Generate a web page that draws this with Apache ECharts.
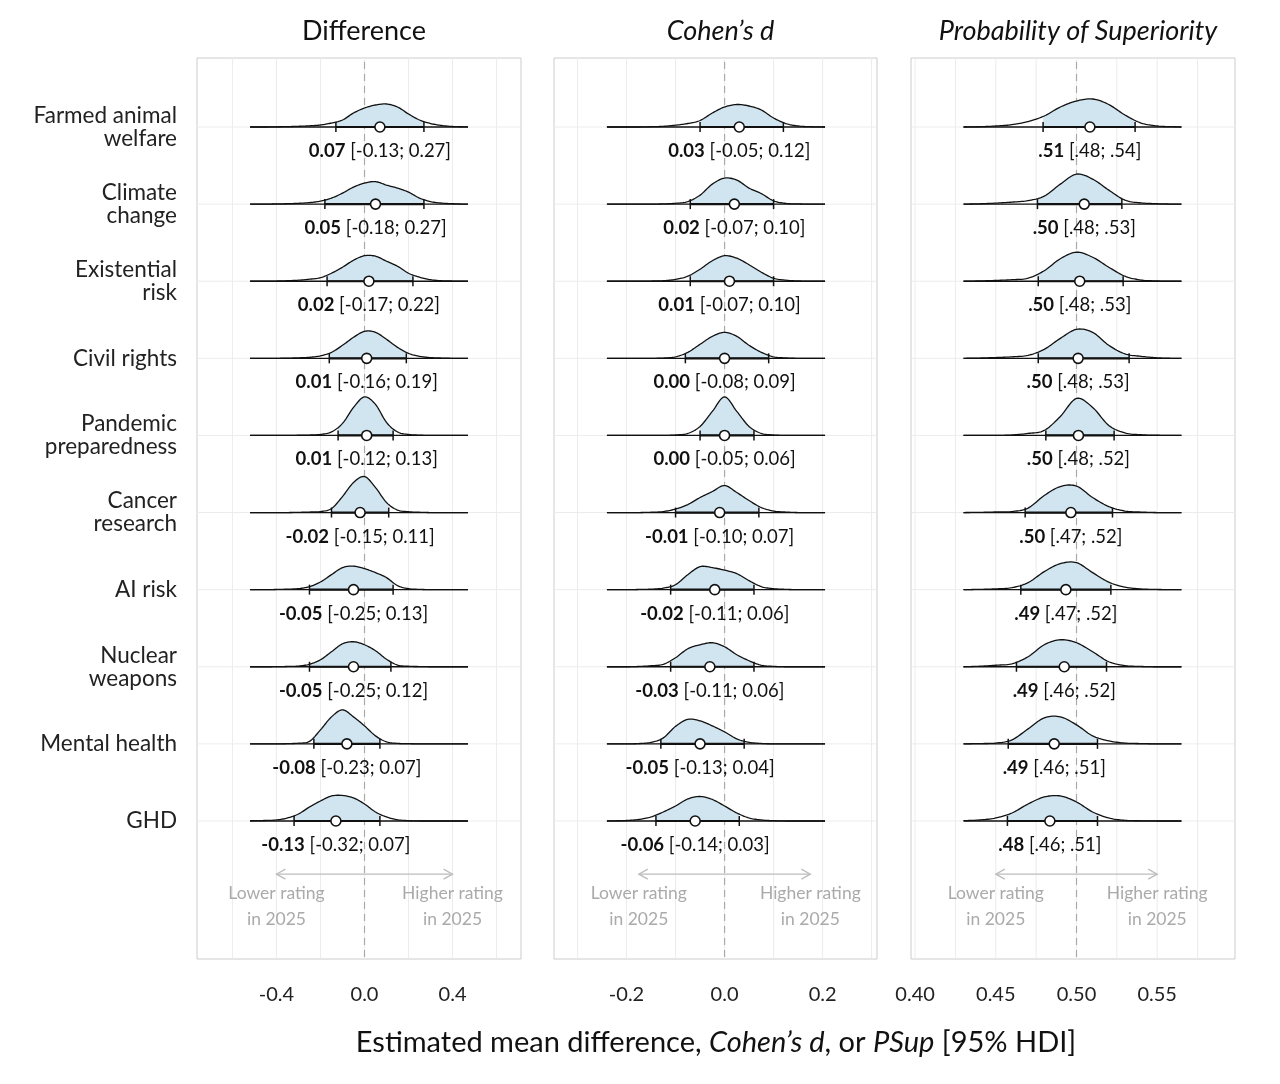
<!DOCTYPE html>
<html><head><meta charset="utf-8">
<script src="https://cdn.jsdelivr.net/npm/echarts@6/dist/echarts.min.js"></script>
<style>html,body{margin:0;padding:0;background:#fff}#c{width:1280px;height:1084px}</style>
</head><body><div id="c"></div>
<script>
// ---------------- DATA ----------------
const causes = ["Farmed animal\nwelfare","Climate\nchange","Existential\nrisk","Civil rights","Pandemic\npreparedness","Cancer\nresearch","AI risk","Nuclear\nweapons","Mental health","GHD"];

// Panel 1: Difference
const diffMean = [0.07,0.05,0.02,0.01,0.01,-0.02,-0.05,-0.05,-0.08,-0.13];
const diffLow  = [-0.13,-0.18,-0.17,-0.16,-0.12,-0.15,-0.25,-0.25,-0.23,-0.32];
const diffHigh = [0.27,0.27,0.22,0.19,0.13,0.11,0.13,0.12,0.07,0.07];
const diffDensX = [-0.52,-0.45,-0.4,-0.35,-0.3,-0.25,-0.2,-0.15,-0.1,-0.05,0,0.05,0.1,0.15,0.2,0.25,0.3,0.35,0.4,0.45,0.47];
const diffDens = [
 [0,0,0.2,0.4,0.7,1.2,2,4,7,14,19,22,23,20,13,7,3.5,1.5,0.5,0.2,0],
 [0,0,0.2,0.4,0.8,1.5,3,6,11,17,21,22.5,19,16,12,6,2.5,1,0.4,0,0],
 [0,0,0.2,0.5,1,2,3.5,8,14,21,25.5,25,20,15,8,4,1.5,0.5,0.2,0,0],
 [0,0,0,0.2,0.5,1,2.5,6,13,21,27,26,19,11,5,2,0.7,0.3,0,0,0],
 [0,0,0,0,0.2,0.4,1,3.5,12,28,38.5,31,13,3.5,1,0.3,0,0,0,0,0],
 [0,0,0,0,0.2,0.5,1,4,16,30,36,25,10,2.5,0.8,0.3,0,0,0,0,0],
 [0,0,0.2,0.5,1,3,7.7,15,22,23.5,21,17,12,4,1,0.3,0,0,0,0,0],
 [0,0,0.1,0.3,0.7,2.5,7,15,23,25,22,16,7.5,1.7,0.5,0.2,0,0,0,0,0],
 [0,0,0,0.2,0.7,2.5,14,27,34,27,18,8,2,0.5,0.2,0,0,0,0,0,0],
 [0.2,0.5,1,3,7,14,20,25,25.5,23,17,9,4,1.2,0.3,0,0,0,0,0,0]
];
const diffTicks = [-0.4,0,0.4];
const diffGridLines = [-0.6,-0.4,-0.2,0,0.2,0.4,0.6];
const diffArrow = [-0.4,0.4];

// Panel 2: Cohen's d
const dMean = [0.03,0.02,0.01,0.00,0.00,-0.01,-0.02,-0.03,-0.05,-0.06];
const dLow  = [-0.05,-0.07,-0.07,-0.08,-0.05,-0.10,-0.11,-0.11,-0.13,-0.14];
const dHigh = [0.12,0.10,0.10,0.09,0.06,0.07,0.06,0.06,0.04,0.03];
const dDensX = [-0.24,-0.2,-0.175,-0.15,-0.125,-0.1,-0.075,-0.05,-0.025,0,0.025,0.05,0.075,0.1,0.125,0.15,0.175,0.205];
const dDens = [
 [0,0,0,0.3,0.7,1.8,3.5,6.5,14,20,22.5,21,17,9,3.5,1,0.3,0],
 [0,0,0,0,0.2,0.8,2.5,9,20,26,24,16,10.5,3.3,0.7,0.2,0,0],
 [0,0,0,0.2,0.5,1.8,5,12,20.5,25.5,23,16.5,9,3,1,0.3,0,0],
 [0,0,0,0,0.3,1.5,6,14,22,26,22,13,6,1.5,0.4,0,0,0],
 [0,0,0,0,0,0.5,2,9,24,38.5,24,9,2,0.5,0,0,0,0],
 [0,0,0,0.3,1,3.5,8,15,21,27,20,12,5,1.5,0.5,0,0,0],
 [0,0,0.2,0.5,1.5,5,15,23,22,19.5,16,9,3,1,0.3,0,0,0],
 [0,0,0.3,1,2.5,9,18,22,24,20,12,6,1.5,0.4,0,0,0,0],
 [0,0,0.3,1.5,6,17.5,24.5,23,18,12,5,1.5,0.4,0,0,0,0,0],
 [0,0.5,1.5,4,9,15,22,24.5,21.5,15,8,3,1,0.3,0,0,0,0]
];
const dTicks = [-0.2,0,0.2];
const dGridLines = [-0.3,-0.2,-0.1,0,0.1,0.2,0.3];
const dArrow = [-0.175,0.175];

// Panel 3: Probability of Superiority
const psMean = [0.5083,0.5048,0.502,0.501,0.5012,0.4965,0.4934,0.4924,0.4862,0.4835];
const psLow  = [0.4793,0.4758,0.4763,0.4763,0.481,0.4682,0.4655,0.4628,0.4577,0.4572];
const psHigh = [0.5363,0.5281,0.5289,0.5326,0.5233,0.5223,0.5213,0.5186,0.513,0.513];
const psMeanText = [".51",".50",".50",".50",".50",".50",".49",".49",".49",".48"];
const psLowText  = [".48",".48",".48",".48",".48",".47",".47",".46",".46",".46"];
const psHighText = [".54",".53",".53",".53",".52",".52",".52",".52",".51",".51"];
const psDensX = [0.43,0.44,0.45,0.46,0.47,0.48,0.49,0.5,0.51,0.52,0.53,0.54,0.55,0.56,0.565];
const psDens = [
 [0,0.3,1,2.3,5.5,11,20,26,28,22.5,12,4,1,0.3,0],
 [0,0.3,1,2,3.5,8,20,30,25,14,4,1.2,0.4,0,0],
 [0,0.3,0.8,1.5,3,10.5,22.5,29,24,14,5,1.2,0.3,0,0],
 [0,0.3,0.8,1.5,3,9,20,29,26,13,4.5,2,0.5,0,0],
 [0,0,0,0.5,2,5,19,37,28,10,2.5,0.7,0.2,0,0],
 [0,0.2,0.6,1,4.5,17,26,26.5,15,6,1.5,0.5,0,0,0],
 [0,0.3,0.8,2,7,18,26,27,17,7.5,2.5,0.7,0.2,0,0],
 [0,0.5,1.5,3,10,22,27,24,15,5,1.2,0.3,0,0,0],
 [0,0.3,0.8,4,15,26,27,19,8,3,0.8,0.3,0,0,0],
 [0.3,1,3,8,17,24,25,19,9,3,0.6,0.2,0,0,0]
];
const psTicks = [0.40,0.45,0.50,0.55];
const psGridLines = [0.4,0.425,0.45,0.475,0.5,0.525,0.55,0.575];
const psArrow = [0.45,0.55];

const panelTitles = ["Difference","Cohen’s d","Probability of Superiority"];
const arrowText = ["Lower rating\nin 2025","Higher rating\nin 2025"];
const axisTitle = "Estimated mean difference, {i|Cohen’s d}, or {i|PSup} [95% HDI]";

// ---------------- LAYOUT / STYLE ----------------
const FONT = "Lato";
const FILL = "#d1e5f0";
const INK = "#111";
const Y_MIN = -0.895, Y_MAX = 10.79;
const DSCALE = 1/77.1;   // density unit -> row units
const gridsPx = [[197,324],[554,323],[911,324]];
const xRanges = [[-0.761,0.711],[-0.348,0.311],[0.39746,0.5982]];
const VAL_FS = 18.5;

const fmt2 = v => (Math.abs(v) < 1e-9 ? 0 : v).toFixed(2);
const panels = [
  {x:diffDensX, dens:diffDens, mean:diffMean, lo:diffLow, hi:diffHigh,
   mt:diffMean.map(fmt2), lt:diffLow.map(fmt2), ht:diffHigh.map(fmt2),
   ticks:diffTicks, gl:diffGridLines, ref:0, arrow:diffArrow, fmt:v=>v.toFixed(1)},
  {x:dDensX, dens:dDens, mean:dMean, lo:dLow, hi:dHigh,
   mt:dMean.map(fmt2), lt:dLow.map(fmt2), ht:dHigh.map(fmt2),
   ticks:dTicks, gl:dGridLines, ref:0, arrow:dArrow, fmt:v=>v.toFixed(1)},
  {x:psDensX, dens:psDens, mean:psMean, lo:psLow, hi:psHigh,
   mt:psMeanText, lt:psLowText, ht:psHighText,
   ticks:psTicks, gl:psGridLines, ref:0.5, arrow:psArrow, fmt:v=>v.toFixed(2)}
];

function spline(P, y0){
  const out=[]; const n=P.length;
  for(let i=0;i<n-1;i++){
    const p0=P[Math.max(i-1,0)], p1=P[i], p2=P[i+1], p3=P[Math.min(i+2,n-1)];
    for(let s=0;s<10;s++){
      const t=s/10, t2=t*t, t3=t2*t;
      const f=(a,b,c,d)=>0.5*(2*b+(-a+c)*t+(2*a-5*b+4*c-d)*t2+(-a+3*b-3*c+d)*t3);
      out.push([f(p0[0],p1[0],p2[0],p3[0]), Math.min(y0, f(p0[1],p1[1],p2[1],p3[1]))]);
    }
  }
  out.push([P[n-1][0], Math.min(y0,P[n-1][1])]);
  return out;
}
function interpY(pts,x){
  for(let k=0;k<pts.length-1;k++){
    const a=pts[k], b=pts[k+1];
    if(x>=a[0] && x<=b[0]){ const t=(b[0]===a[0])?0:(x-a[0])/(b[0]-a[0]); return a[1]+t*(b[1]-a[1]); }
  }
  return pts[pts.length-1][1];
}

function densRender(p){
  return function(params, api){
    const r = api.value(1);
    const d = p.dens[r];
    const y0 = api.coord([p.x[0], r])[1];
    const raw = p.x.map((x,k)=>api.coord([x, r - d[k]*DSCALE]));
    const pts = spline(raw, y0);
    const xlo = api.coord([p.lo[r], r])[0], xhi = api.coord([p.hi[r], r])[0];
    const xm = api.coord([p.mean[r], r])[0];
    const fillPts=[[xlo,y0],[xlo,interpY(pts,xlo)]];
    pts.forEach(q=>{ if(q[0]>xlo && q[0]<xhi) fillPts.push(q); });
    fillPts.push([xhi,interpY(pts,xhi)],[xhi,y0]);
    return {type:'group', children:[
      {type:'polygon', shape:{points:fillPts}, style:{fill:FILL, stroke:null}},
      {type:'line', shape:{x1:pts[0][0],y1:y0,x2:pts[pts.length-1][0],y2:y0}, style:{stroke:INK,lineWidth:1.3}},
      {type:'polyline', shape:{points:pts}, style:{stroke:INK,lineWidth:1.3,fill:null}},
      {type:'line', shape:{x1:xlo,y1:y0,x2:xhi,y2:y0}, style:{stroke:INK,lineWidth:2.2}},
      {type:'line', shape:{x1:xlo,y1:y0-5,x2:xlo,y2:y0+5}, style:{stroke:INK,lineWidth:1.5}},
      {type:'line', shape:{x1:xhi,y1:y0-5,x2:xhi,y2:y0+5}, style:{stroke:INK,lineWidth:1.5}},
      {type:'circle', shape:{cx:xm,cy:y0,r:5}, style:{fill:'#fff',stroke:INK,lineWidth:1.6}},
      {type:'text', x:xm, y:y0+24, style:{
        text:'{b|'+p.mt[r]+'}{n| ['+p.lt[r]+'; '+p.ht[r]+']}',
        align:'center', verticalAlign:'middle',
        rich:{b:{fontWeight:'bold',fontSize:VAL_FS,fontFamily:FONT,fill:INK},
              n:{fontSize:VAL_FS,fontFamily:FONT,fill:INK}}}}
    ]};
  };
}

function gridRender(p, pi){
  return function(params, api){
    const kind = api.value(2);
    const v = api.value(0);
    if(kind===0){ // vertical grid line
      const a=api.coord([v,Y_MIN]), b=api.coord([v,Y_MAX]);
      return {type:'line', shape:{x1:a[0],y1:a[1],x2:b[0],y2:b[1]}, style:{stroke:'#ececec',lineWidth:1}};
    } else if(kind===1){ // horizontal baseline grid
      const r=api.value(1);
      const a=api.coord([xRanges[pi][0],r]), b=api.coord([xRanges[pi][1],r]);
      return {type:'line', shape:{x1:a[0],y1:a[1],x2:b[0],y2:b[1]}, style:{stroke:'#ececec',lineWidth:1}};
    } else { // reference dashed line
      const a=api.coord([v,Y_MIN]), b=api.coord([v,Y_MAX]);
      return {type:'line', shape:{x1:a[0],y1:a[1]+4,x2:b[0],y2:b[1]}, style:{stroke:'#aaaaaa',lineWidth:1.2,lineDash:[7,5]}};
    }
  };
}

function arrowRender(p){
  return function(params, api){
    const a=api.coord([p.arrow[0], 9.69]), b=api.coord([p.arrow[1], 9.69]);
    const c='#bdbdbd', y=a[1];
    const ts={fontSize:17.5,fontFamily:FONT,fill:'#aaaaaa',align:'center',verticalAlign:'middle',lineHeight:26};
    return {type:'group', children:[
      {type:'line', shape:{x1:a[0],y1:y,x2:b[0],y2:y}, style:{stroke:c,lineWidth:1.3}},
      {type:'polyline', shape:{points:[[a[0]+9,y-5],[a[0],y],[a[0]+9,y+5]]}, style:{stroke:c,lineWidth:1.3,fill:null}},
      {type:'polyline', shape:{points:[[b[0]-9,y-5],[b[0],y],[b[0]-9,y+5]]}, style:{stroke:c,lineWidth:1.3,fill:null}},
      {type:'text', x:a[0], y:y+32, style:Object.assign({text:arrowText[0]},ts)},
      {type:'text', x:b[0], y:y+32, style:Object.assign({text:arrowText[1]},ts)}
    ]};
  };
}

const grids=[], xAxes=[], yAxes=[], series=[], titles=[];
panels.forEach((p,i)=>{
  grids.push({left:gridsPx[i][0], width:gridsPx[i][1], top:58, height:901, show:true,
    borderColor:'#cccccc', borderWidth:1, backgroundColor:'#fff', containLabel:false, outerBoundsMode:'none'});
  xAxes.push({gridIndex:i, type:'value', min:xRanges[i][0], max:xRanges[i][1],
    axisLine:{show:false}, axisTick:{show:false}, splitLine:{show:false},
    axisLabel:{customValues:p.ticks, formatter:p.fmt, margin:26, fontSize:20, color:'#222', fontFamily:FONT}});
  yAxes.push({gridIndex:i, type:'value', inverse:true, min:Y_MIN, max:Y_MAX,
    axisLine:{show:false}, axisTick:{show:false}, splitLine:{show:false},
    axisLabel: i===0 ? {customValues:[0,1,2,3,4,5,6,7,8,9], formatter:v=>causes[Math.round(v)],
      margin:20, fontSize:22.5, lineHeight:23, color:'#222', fontFamily:FONT, align:'right'} : {show:false}});
  const gdata = p.gl.map(v=>[v,0,0]).concat(causes.map((c,r)=>[0,r,1])).concat([[p.ref,0,2]]);
  series.push({type:'custom', xAxisIndex:i, yAxisIndex:i, silent:true, z:1, renderItem:gridRender(p,i), data:gdata});
  series.push({type:'custom', xAxisIndex:i, yAxisIndex:i, silent:true, z:2, renderItem:arrowRender(p), data:[[p.arrow[0],9.69]]});
  series.push({type:'custom', xAxisIndex:i, yAxisIndex:i, silent:true, z:3, renderItem:densRender(p),
    data:p.mean.map((m,r)=>[m,r])});
  titles.push({text:panelTitles[i], left:gridsPx[i][0]+gridsPx[i][1]/2, top:13, textAlign:'center',
    textStyle:{fontSize:27, fontWeight:'normal', fontStyle: i===0?'normal':'italic', color:'#111', fontFamily:FONT}});
});

const chart = echarts.init(document.getElementById('c'), null, {renderer:'canvas'});
chart.setOption({
  backgroundColor:'#fff',
  animation:false,
  title:titles,
  grid:grids, xAxis:xAxes, yAxis:yAxes, series:series,
  graphic:[{type:'text', x:716, y:1043, style:{text:axisTitle, fontSize:29, fontFamily:FONT, fill:'#111',
    align:'center', verticalAlign:'middle',
    rich:{i:{fontStyle:'italic', fontSize:29, fontFamily:FONT, fill:'#111'}}}}]
});
</script>
</body></html>
